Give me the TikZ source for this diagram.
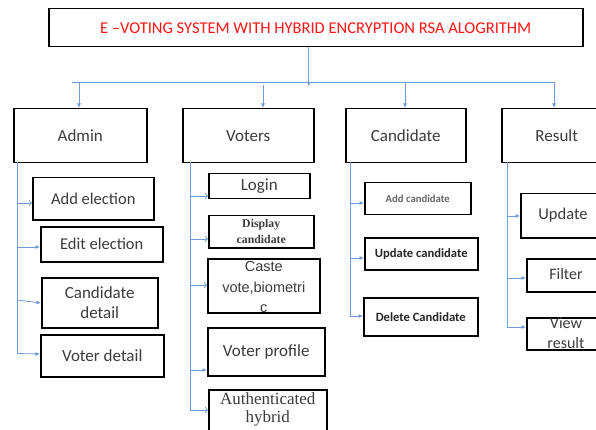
\documentclass[tikz,border=0pt]{standalone}
\usepackage{fontspec}
\setmainfont{Carlito}
\newfontfamily\timesf{Liberation Serif}
\newfontfamily\arialf{Liberation Sans}
\usetikzlibrary{arrows.meta}
\definecolor{conn}{RGB}{110,155,215}
\definecolor{txt}{RGB}{60,60,60}
\definecolor{ttl}{RGB}{255,20,20}
\tikzset{
 box/.style={draw=black, line width=1.5pt, text=txt, inner sep=0pt, align=center, anchor=north west},
 lbl/.style={text=txt, inner sep=0pt, align=center},
 conn/.style={draw=conn, line width=0.8pt},
 fa/.style={conn, -{Latex[length=4.5pt,width=4pt]}},
 oa/.style={conn, -{To[length=3pt,width=6pt]}},
}
\newcommand{\fs}[2]{\fontsize{#1}{#2}\selectfont}
\begin{document}
\begin{tikzpicture}[x=1pt,y=-1pt]
\useasboundingbox[fill=white] (0,0) rectangle (596,430);
% title
\node[box, minimum width=534pt, minimum height=38pt, text=ttl, font=\fs{16.5}{18}] (tb) at (48,8) {E --VOTING SYSTEM WITH HYBRID ENCRYPTION RSA ALOGRITHM};
% main boxes
\node[box, minimum width=133pt, minimum height=54pt, font=\fs{17}{20}] (admin) at (13,108) {Admin};
\node[box, minimum width=131pt, minimum height=54pt, font=\fs{17}{20}] (voters) at (182,108) {Voters};
\node[box, minimum width=120pt, minimum height=54pt, font=\fs{17}{20}] (cand) at (345,108) {Candidate};
\node[box, minimum width=110pt, minimum height=54pt, font=\fs{17}{20}] (result) at (501,108) {Result};
% bus
\coordinate (busL) at (72,82);
\coordinate (busR) at (554,82);
\draw[fa] ([xshift=-7pt]tb.south) -- ++(0,39);
\draw[conn] (busL) -- (busR);
\draw[fa] (79,82) -- (79,82 |- admin.north);
\draw[fa] (263,85) -- (263,85 |- voters.north);
\draw[fa] (405,82) -- (405,82 |- cand.north);
\draw[fa] (busR) -- (busR |- result.north);
% admin sub
\node[box, minimum width=121pt, minimum height=42pt, font=\fs{16.5}{18}] (addel) at (32,177) {Add election};
\node[box, minimum width=122pt, minimum height=35pt, font=\fs{16.5}{18}] (editel) at (40,226) {Edit election};
\node[box, minimum width=116pt, minimum height=50pt, font=\fs{17}{20.5}] (canddet) at (41,277) {Candidate\\detail};
\node[box, minimum width=123pt, minimum height=42pt, font=\fs{17}{18}] (voterdet) at (40,334) {Voter detail};
\coordinate (aTop) at (17,162);
\coordinate (aBot) at (17,354);
\draw[conn] (aTop) -- (aBot);
\draw[oa] (17,203) -- (17,203 -| addel.west);
\draw[fa] (17,247) -- (17,247 -| editel.west);
\draw[fa] (17,300) -- (41,303);
\draw[fa] (17,353.5) -- (17,354 -| voterdet.west);
% voters sub
\node[box, minimum width=101pt, minimum height=25pt, font=\fs{17}{18}] (login) at (208,173) {Login};
\node[box, minimum width=105pt, minimum height=32pt, font=\timesf\bfseries\fs{11.8}{16}] (disp) at (208,215) {Display\\candidate};
\node[box, minimum width=112pt, minimum height=54pt] (caste) at (207,258) {};
\node[lbl, font=\arialf\fs{14.5}{20.5}] at ([yshift=-1.5pt]caste.center) {Caste\\vote,biometri\\c};
\node[box, minimum width=117pt, minimum height=48pt, font=\fs{17}{18}] (vprof) at (207,327) {Voter profile};
\node[box, minimum width=118pt, minimum height=60pt] (auth) at (208,389) {};
\node[lbl, font=\timesf\fs{17}{18}, anchor=north] at ([yshift=-4pt]auth.north) {Authenticated\\hybrid};
\coordinate (vTop) at (190,162);
\coordinate (vBot) at (190,410);
\draw[conn] (vTop) -- (vBot);
\draw[oa] (190,196) -- (190,196 -| login.west);
\draw[oa] (190,239) -- (190,239 -| disp.west);
\draw[oa] (190,285) -- (190,285 -| caste.west);
\draw[fa] (190,370) -- (190,370 -| vprof.west);
\draw[oa] (vBot) -- (vBot -| auth.west);
% candidate sub
\node[box, minimum width=106pt, minimum height=32pt, font=\bfseries\fs{10.7}{12}, text=black!60] (addc) at (364,182) {Add candidate};
\node[box, minimum width=113pt, minimum height=32pt, font=\bfseries\fs{12.6}{14}, text=black!85] (updc) at (364,237) {Update candidate};
\node[box, minimum width=114pt, minimum height=38pt, font=\bfseries\fs{12.6}{14}, text=black!85] (delc) at (363,297) {Delete Candidate};
\coordinate (cTop) at (350,162);
\coordinate (cBot) at (350,316);
\draw[conn] (cTop) -- (cBot);
\draw[fa] (350,203) -- (350,203 -| addc.west);
\draw[fa] (350,258) -- (350,258 -| updc.west);
\draw[fa] (cBot) -- (cBot -| delc.west);
% result sub
\node[box, minimum width=90pt, minimum height=44pt] (upd) at (520,193) {};
\node[lbl, font=\fs{16.5}{18}] at (563,215) {Update};
\node[box, minimum width=84pt, minimum height=33pt] (filt) at (526,258) {};
\node[lbl, font=\fs{16}{18}] at (566,274.5) {Filter};
\node[box, minimum width=84pt, minimum height=32pt] (view) at (526,317) {};
\node[lbl, font=\fs{16}{20}] at (566,333) {View\\result};
\coordinate (rTop) at (507,162);
\coordinate (rBot) at (507,327);
\draw[conn] (rTop) -- (rBot);
\draw[fa] (507,216) -- (507,216 -| upd.west);
\draw[fa] (507,278) -- (507,278 -| filt.west);
\draw[fa] (rBot) -- (rBot -| view.west);
\end{tikzpicture}
\end{document}
